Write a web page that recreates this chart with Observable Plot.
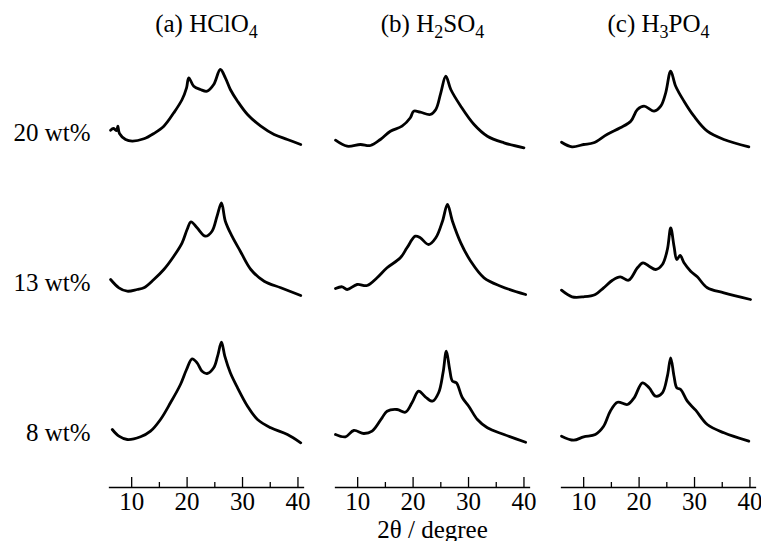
<!DOCTYPE html>
<html><head><meta charset="utf-8">
<script src="https://cdn.jsdelivr.net/npm/d3@7"></script>
<script src="https://cdn.jsdelivr.net/npm/@observablehq/plot@0.6"></script>
<style>
body{margin:0;background:#fff;}
#chart{width:761px;height:541px;}
</style>
</head><body><div id="chart"></div>
<script>
// Panels (columns), rows, ticks
const acids = ["HClO4", "H2SO4", "H3PO4"];
const panelTags = ["(a)", "(b)", "(c)"];
const loadings = ["20 wt%", "13 wt%", "8 wt%"];
const xTicks = [10, 20, 30, 40];
const xMinorTicks = [15, 25, 35];
const xLabel = "2θ / degree";

// XRD patterns: [2θ (degree), intensity (a.u., offset within row)]
const hclo4_20 = [[6.2,57.3],[6.7,59],[7.3,57],[7.5,61.3],[7.8,54],[8.9,48],[10.1,46.3],[12.2,48.7],[14.0,54],[15.8,61.3],[17.6,74.7],[19.1,88],[19.9,99.7],[20.3,109.7],[21.2,101.3],[22.4,98],[23.6,96.3],[24.8,103],[26.0,118],[26.9,109.7],[27.8,98],[29.1,86.3],[30.9,73],[33.3,61.3],[35.7,53],[38.1,48],[40.5,43]];
const h2so4_20 = [[6.0,47.3],[8.1,41.3],[10.5,43],[12.3,42],[14.1,48],[15.9,56.3],[18.0,61.3],[19.5,69.7],[20.1,76.3],[21.3,75.3],[23.1,73],[24.1,78],[25.0,94.7],[25.9,111.3],[26.8,98],[28.6,81.3],[31.0,63],[33.4,51.3],[36.4,44.7],[40.0,39.7]];
const h3po4_20 = [[6.0,45.3],[7.9,40.7],[10.0,43],[11.8,44.7],[14.2,53],[16.6,59.7],[18.5,66.3],[19.7,78],[20.9,81.3],[22.7,76.3],[23.9,81.3],[24.8,94.7],[25.7,116.3],[26.6,101.3],[28.1,86.3],[29.9,71.3],[32.3,56.3],[35.3,48],[39.8,40.7]];

const hclo4_13 = [[6.2,58],[7.7,49.7],[9.2,46.3],[11.0,48],[12.2,49.7],[14.0,58],[15.8,68],[17.6,81.3],[19.1,94.7],[20.0,108],[20.7,115.7],[21.8,109.7],[23.3,101.3],[24.5,106.3],[25.4,121.3],[26.2,134.7],[26.9,116.3],[28.1,101.3],[29.6,86.3],[31.5,68],[33.9,56.3],[36.9,49.7],[40.5,42]];
const h2so4_13 = [[6.0,49],[7.2,50.7],[8.1,48],[9.9,53],[11.7,52],[13.5,59.7],[15.3,69.7],[17.7,79.7],[18.9,89.7],[20.4,101.3],[21.3,99.7],[22.8,93],[24.1,99.7],[25.3,116.3],[26.2,133],[27.1,116.3],[28.6,94.7],[30.4,76.3],[32.8,59.7],[35.8,51.3],[40.3,43]];
const h3po4_13 = [[6.0,47.3],[7.9,40.7],[10.0,40.7],[12.1,43],[13.6,49.7],[15.2,57.3],[16.6,60.7],[18.1,57.3],[19.7,69.7],[20.7,74.7],[21.8,71.3],[23.0,68],[24.2,73],[25.1,88],[25.7,109.7],[26.3,91.3],[26.8,78],[27.4,82],[28.1,74.7],[29.3,66.3],[30.5,60.7],[32.3,49.7],[35.3,44.7],[40.1,38]];

const hclo4_8 = [[6.5,58],[7.7,51.3],[9.2,48],[11.6,50.7],[13.4,56.3],[15.2,68],[17.0,84.7],[18.8,103],[19.9,118],[20.9,128.7],[21.8,124.7],[22.7,116.3],[23.6,114],[24.8,119.7],[25.5,131.3],[26.2,145.3],[26.8,131.3],[27.8,114.7],[29.1,99.7],[30.9,81.3],[32.7,68],[35.1,59.7],[38.1,53],[40.5,44.7]];
const h2so4_8 = [[6.0,53],[7.8,50.7],[9.3,57],[11.1,54],[12.6,56.3],[14.4,69.7],[15.3,76.3],[17.1,78],[18.6,75.3],[19.8,84.7],[21.0,96.3],[22.2,90.7],[23.5,86.3],[24.6,94.7],[25.4,114.7],[26.0,136.3],[26.6,118],[27.1,106.3],[27.8,104.7],[28.9,89.7],[30.1,80.7],[31.6,68],[33.4,59.7],[36.4,53],[40.3,45.3]];
const h3po4_8 = [[6.0,51.3],[8.2,47.3],[10.0,50.7],[12.1,53],[13.6,61.3],[14.8,76.3],[16.1,85.3],[17.9,83],[19.1,89.7],[20.6,104.7],[21.8,99.7],[23.0,91.3],[24.2,94.7],[25.1,111.3],[25.7,129.7],[26.3,111.3],[26.8,99.7],[27.5,98],[28.7,86.3],[30.2,77.3],[32.3,63],[35.3,54.7],[39.8,46.3]];

const series = [
  {acid: "HClO4", load: "20 wt%", pts: hclo4_20},
  {acid: "H2SO4", load: "20 wt%", pts: h2so4_20},
  {acid: "H3PO4", load: "20 wt%", pts: h3po4_20},
  {acid: "HClO4", load: "13 wt%", pts: hclo4_13},
  {acid: "H2SO4", load: "13 wt%", pts: h2so4_13},
  {acid: "H3PO4", load: "13 wt%", pts: h3po4_13},
  {acid: "HClO4", load: "8 wt%", pts: hclo4_8},
  {acid: "H2SO4", load: "8 wt%", pts: h2so4_8},
  {acid: "H3PO4", load: "8 wt%", pts: h3po4_8}
];
const table = series.flatMap(s => s.pts.map(([x, y]) => ({acid: s.acid, load: s.load, x, y})));

const chart = Plot.plot({
  width: 761, height: 541,
  marginTop: 37, marginBottom: 54, marginLeft: 109, marginRight: 6,
  style: {fontFamily: "'Liberation Serif', 'Times New Roman', serif", fontSize: "25px", color: "#000", background: "#fff"},
  x: {domain: [6, 41]},
  y: {domain: [0, 150], axis: null},
  fx: {domain: acids, paddingInner: 0.1416, paddingOuter: 0},
  fy: {domain: loadings, padding: 0},
  marks: [
    Plot.frame({anchor: "bottom", facetAnchor: "bottom", strokeWidth: 1.3}),
    Plot.axisX({ticks: xTicks, tickSize: -10, tickPadding: 15, strokeWidth: 1.3, label: xLabel, labelAnchor: "center", labelOffset: 50, labelArrow: "none"}),
    Plot.axisX({ticks: xMinorTicks, tickSize: -5, strokeWidth: 1.3, tickFormat: () => "", label: null}),
    Plot.axisFx({anchor: "top", tickSize: 0, tickPadding: 6, tickFormat: d => panelTags[acids.indexOf(d)] + " " + d, label: null}),
    Plot.axisFy({anchor: "left", tickSize: 0, tickPadding: 19, dy: 20, label: null}),
    Plot.line(table, {x: "x", y: "y", fx: "acid", fy: "load", stroke: "#000", strokeWidth: 2.8, strokeLinejoin: "round", curve: "catmull-rom"})
  ]
});

// subscripts in chemical formulas
const NS = "http://www.w3.org/2000/svg";
chart.querySelectorAll('g[aria-label="fx-axis tick label"] text').forEach(t => {
  const s = t.textContent;
  while (t.firstChild) t.removeChild(t.firstChild);
  let shifted = false;
  for (const m of s.matchAll(/(\d+)|(\D+)/g)) {
    const ts = document.createElementNS(NS, "tspan");
    if (m[1]) { ts.setAttribute("style", "font-size:0.72em"); ts.setAttribute("dy", shifted ? 0 : 6); shifted = true; }
    else if (shifted) { ts.setAttribute("dy", -6); shifted = false; }
    ts.textContent = m[0];
    t.appendChild(ts);
  }
});
document.getElementById("chart").appendChild(chart);
</script>
</body></html>
